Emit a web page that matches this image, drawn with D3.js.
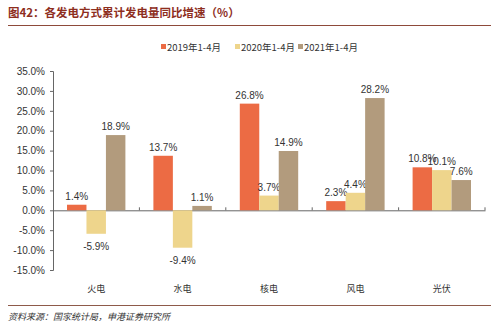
<!DOCTYPE html>
<html><head><meta charset="utf-8">
<script src="https://cdn.jsdelivr.net/npm/d3@7"></script>
<style>body{margin:0;background:#fff;}svg{display:block;}</style>
</head><body>
<svg id="c" width="500" height="329"></svg>
<script>
const categories = ["火电","水电","核电","风电","光伏"];
const seriesNames = ["2019年1-4月","2020年1-4月","2021年1-4月"];
const v2019 = [1.4, 13.7, 26.8, 2.3, 10.8];
const v2020 = [-5.9, -9.4, 3.7, 4.4, 10.1];
const v2021 = [18.9, 1.1, 14.9, 28.2, 7.6];
const yTicks = [-15,-10,-5,0,5,10,15,20,25,30,35];
const colors = ["#EC6B44","#EED58C","#B29B7D"];
const seriesVals = [v2019, v2020, v2021];

const svg = d3.select("#c");
const font = "'Liberation Sans', Arial, sans-serif";
const cjk = "'Noto Sans CJK SC', sans-serif";

// title
svg.append("text").attr("x",8).attr("y",17).attr("font-family",cjk).attr("font-weight","bold")
  .attr("font-size",11.5).attr("fill","#8E2E1E").text("图42：各发电方式累计发电量同比增速（%）");
svg.append("line").attr("x1",8).attr("x2",491).attr("y1",25.5).attr("y2",25.5).attr("stroke","#8E4A3A").attr("stroke-width",1);

const x0 = d3.scaleBand().domain(categories).range([53,485]).paddingInner(0).paddingOuter(0);
const x1 = d3.scaleBand().domain([0,1,2]).range([14, x0.bandwidth()-14]).padding(0);
const y = d3.scaleLinear().domain([-15,35]).range([270,71]);

// y axis
const ya = svg.append("g").attr("transform","translate(53,0)")
  .call(d3.axisLeft(y).tickValues(yTicks).tickFormat(d=>d.toFixed(1)+"%").tickSize(3));
ya.select(".domain").attr("stroke","#666");
ya.selectAll(".tick line").attr("stroke","#666");
ya.selectAll("text").attr("font-family",font).attr("font-size",10).attr("fill","#333").attr("dx",-2);

// x axis at zero
const xa = svg.append("g").attr("transform",`translate(0,${y(0)})`)
  .call(d3.axisBottom(x0).tickSize(0).tickFormat(""));
xa.select(".domain").attr("stroke","#666");
xa.selectAll(".tick").remove();
svg.append("g").selectAll("line").data(categories).join("line")
  .attr("x1",d=>x0(d)+x0.bandwidth()).attr("x2",d=>x0(d)+x0.bandwidth())
  .attr("y1",y(0)-3).attr("y2",y(0)).attr("stroke","#666");

// category labels
svg.append("g").selectAll("text").data(categories).join("text")
  .attr("x",d=>x0(d)+x0.bandwidth()/2).attr("y",292).attr("text-anchor","middle")
  .attr("font-family",cjk).attr("font-size",9).attr("fill","#333").text(d=>d);

// bars
seriesVals.forEach((vals,si)=>{
  const g = svg.append("g");
  g.selectAll("rect").data(vals).join("rect")
    .attr("x",(d,i)=>x0(categories[i])+x1(si)).attr("width",x1.bandwidth())
    .attr("y",d=>y(Math.max(0,d))).attr("height",d=>Math.abs(y(d)-y(0)))
    .attr("fill",colors[si]);
  g.selectAll("text").data(vals).join("text")
    .attr("x",(d,i)=>x0(categories[i])+x1(si)+x1.bandwidth()/2)
    .attr("y",d=> d>=0 ? y(d)-5 : y(d)+16)
    .attr("text-anchor","middle").attr("font-family",font).attr("font-size",10).attr("fill","#333")
    .text(d=>d.toFixed(1)+"%");
});

// legend
const legX = [161,235,298];
const leg = svg.append("g");
seriesNames.forEach((n,i)=>{
  leg.append("rect").attr("x",legX[i]).attr("y",44).attr("width",5).attr("height",5).attr("fill",colors[i]);
  leg.append("text").attr("x",legX[i]+6).attr("y",50.5).attr("font-family",cjk).attr("font-size",9.5)
    .attr("fill","#333").text(n);
});

// footer
svg.append("line").attr("x1",8).attr("x2",491).attr("y1",305.5).attr("y2",305.5).attr("stroke","#8E5A4A").attr("stroke-width",1);
svg.append("text").attr("x",8).attr("y",320).attr("font-family",cjk).attr("font-size",9).attr("font-style","italic")
  .attr("fill","#333").text("资料来源：国家统计局，申港证券研究所");
</script>
</body></html>
